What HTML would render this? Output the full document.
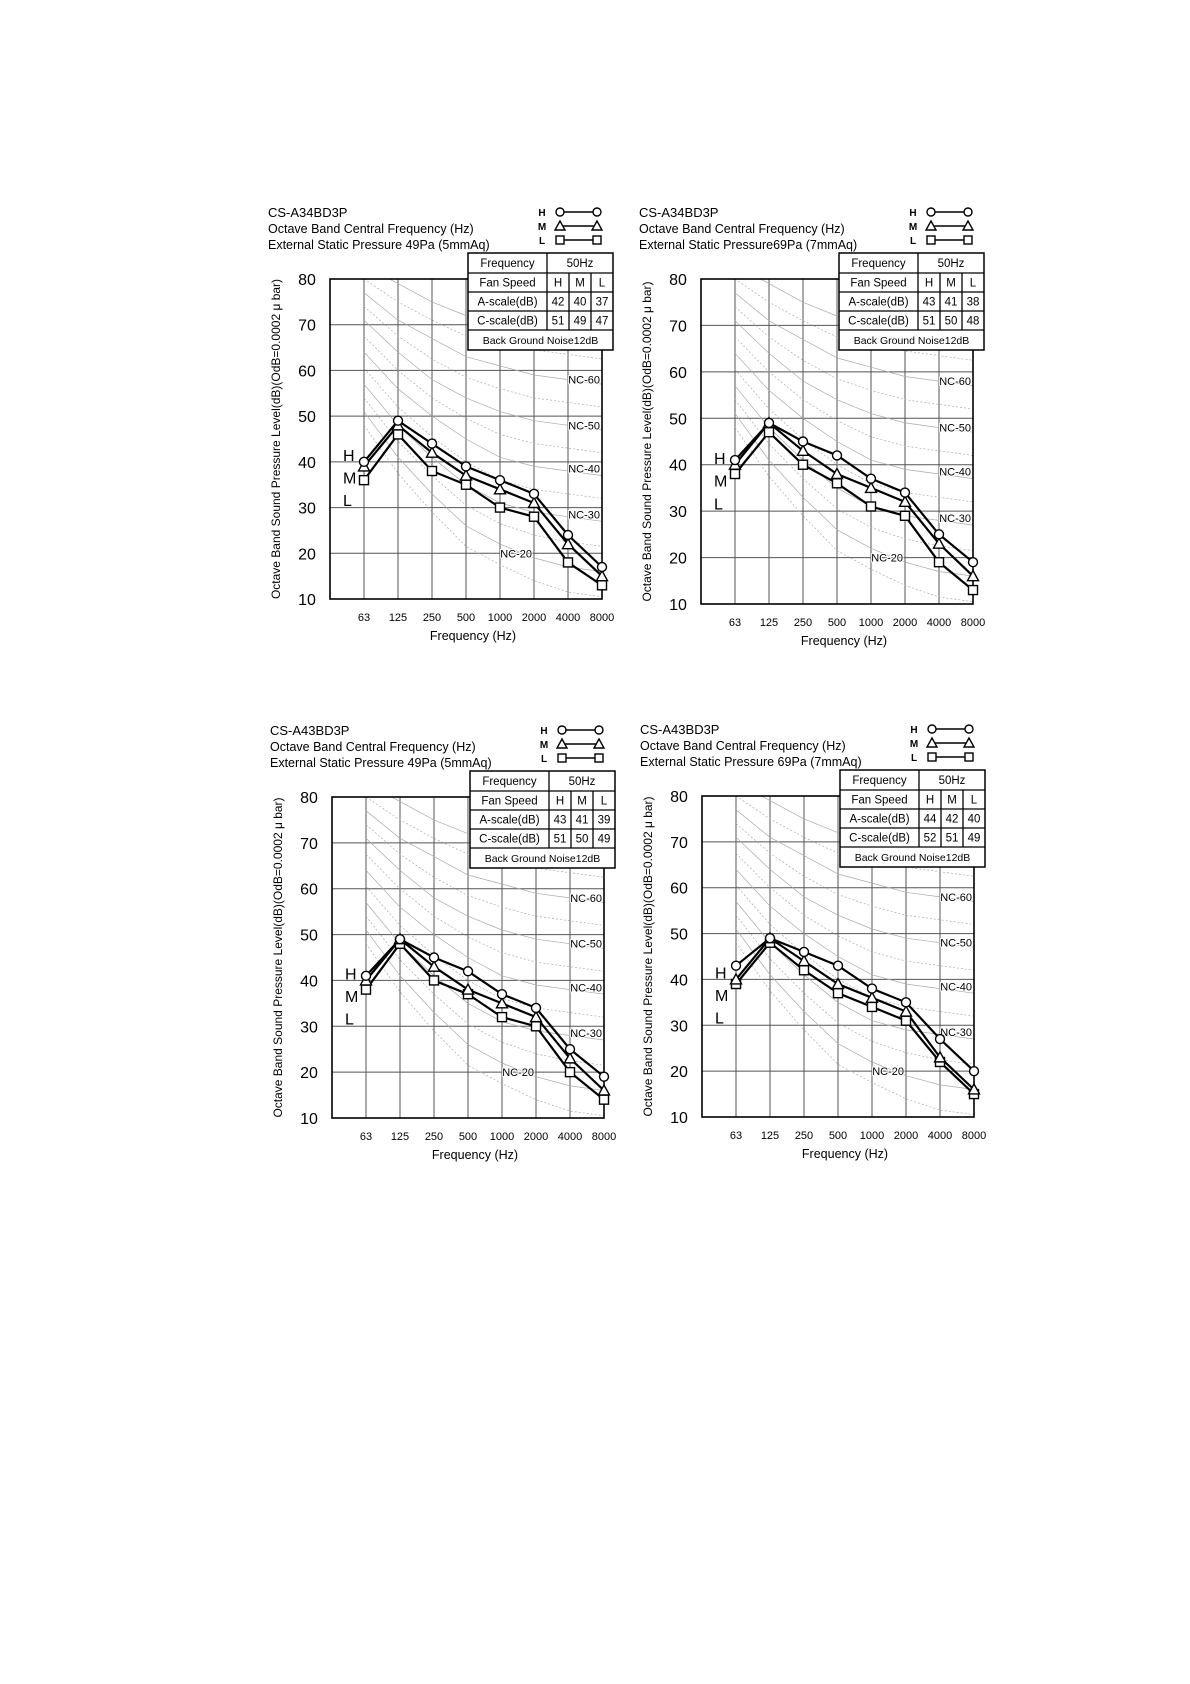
<!DOCTYPE html>
<html><head><meta charset="utf-8">
<style>
html,body{margin:0;padding:0;background:#fff;}
svg{display:block;font-family:"Liberation Sans",Arial,sans-serif;}
</style></head>
<body>
<svg id="s" width="1190" height="1684" xmlns="http://www.w3.org/2000/svg"></svg>
<script>
const S=document.getElementById('s');
const charts=[
 {ox:330,oy:279,h:320,title:"CS-A34BD3P",p:"External Static Pressure 49Pa (5mmAq)",a:[42,40,37],c:[51,49,47],
  H:[40,49,44,39,36,33,24,17],M:[39,48,42,37,34,31,22,15],L:[36,46,38,35,30,28,18,13]},
 {ox:701,oy:279,h:325,title:"CS-A34BD3P",p:"External Static Pressure69Pa (7mmAq)",a:[43,41,38],c:[51,50,48],
  H:[41,49,45,42,37,34,25,19],M:[40,49,43,38,35,32,23,16],L:[38,47,40,36,31,29,19,13]},
 {ox:332,oy:797,h:321,title:"CS-A43BD3P",p:"External Static Pressure 49Pa (5mmAq)",a:[43,41,39],c:[51,50,49],
  H:[41,49,45,42,37,34,25,19],M:[40,49,43,38,35,32,23,16],L:[38,48,40,37,32,30,20,14]},
 {ox:702,oy:796,h:321,title:"CS-A43BD3P",p:"External Static Pressure 69Pa (7mmAq)",a:[44,42,40],c:[52,51,49],
  H:[43,49,46,43,38,35,27,20],M:[40,49,44,39,36,33,23,16],L:[39,48,42,37,34,31,22,15]}
];
const NC={20:[51,41,33,26,22,19,17,16],30:[57,48,41,35,31,29,28,27],40:[64,56,50,45,41,39,38,37],
50:[71,64,58,54,51,49,48,47],60:[77,71,67,63,61,59,58,57],70:[83,79,75,72,71,70,69,68]};
let out="";
charts.forEach((c,ci)=>{
 const ox=c.ox,oy=c.oy,W=272,h=c.h;
 const X=i=>ox+34+i*34, Y=v=>oy+(80-v)*h/70;
 out+=`<defs><clipPath id="cp${ci}"><rect x="${ox}" y="${oy}" width="${W}" height="${h}"/></clipPath></defs>`;
 for(let v=10;v<=80;v+=10) out+=`<line x1="${ox}" x2="${ox+W}" y1="${Y(v)}" y2="${Y(v)}" stroke="#555" stroke-width="1"/>`;
 for(let i=0;i<8;i++) out+=`<line x1="${X(i)}" x2="${X(i)}" y1="${oy}" y2="${oy+h}" stroke="#555" stroke-width="1"/>`;
 out+=`<g clip-path="url(#cp${ci})">`;
 for(let n=15;n<=70;n+=5){
  let lo=Math.floor(n/10)*10, hi=lo+10; if(lo<20){lo=20;hi=30;}
  if(lo>=70){lo=60;hi=70;}
  const t=(n-lo)/10;
  const vals=NC[lo].map((v,i)=>v+(NC[hi][i]-v)*t);
  const pts=[];
  vals.forEach((v,i)=>pts.push([X(i),v]));
  let d="M"+pts.map(p=>p[0]+","+Y(p[1]).toFixed(1)).join(" L");
  out+=`<path d="${d}" fill="none" stroke="#aaa" stroke-width="0.7" stroke-dasharray="${n%10?'2,2':'none'}"/>`;
 }
 out+=`</g>`;
 out+=`<rect x="${ox}" y="${oy}" width="${W}" height="${h}" fill="none" stroke="#000" stroke-width="1.6"/>`;
 [[60,58],[50,48],[40,38.5],[30,28.5]].forEach(([n,v])=>{
  out+=`<text x="${ox+W-2}" y="${Y(v)+4}" font-size="11" text-anchor="end" fill="#000" style="paint-order:stroke" stroke="#fff" stroke-width="2">NC-${n}</text>`;
 });
 out+=`<text x="${X(5)-2}" y="${Y(20)+4}" font-size="11" text-anchor="end" fill="#000" stroke="#fff" stroke-width="2" style="paint-order:stroke">NC-20</text>`;
 for(let v=10;v<=80;v+=10) out+=`<text x="${ox-23}" y="${Y(v)+6}" font-size="16" text-anchor="middle">${v}</text>`;
 ["63","125","250","500","1000","2000","4000","8000"].forEach((t,i)=>out+=`<text x="${X(i)}" y="${oy+h+22}" font-size="11" text-anchor="middle">${t}</text>`);
 out+=`<text x="${ox+143}" y="${oy+h+41}" font-size="12.5" text-anchor="middle">Frequency  (Hz)</text>`;
 out+=`<text transform="translate(${ox-50},${oy+h/2}) rotate(-90)" font-size="12" text-anchor="middle">Octave Band Sound Pressure Level(dB)(OdB=0.0002 μ bar)</text>`;
 out+=`<text x="${ox-62}" y="${oy-62}" font-size="13">${c.title}</text>`;
 out+=`<text x="${ox-62}" y="${oy-46}" font-size="12.5">Octave Band Central Frequency (Hz)</text>`;
 out+=`<text x="${ox-62}" y="${oy-30}" font-size="12.5">${c.p}</text>`;
 const lg=[["H",oy-67,"c"],["M",oy-53,"t"],["L",oy-39,"s"]];
 const mk=(t,x,y,r)=>t=="c"?`<circle cx="${x}" cy="${y}" r="${r}" fill="#fff" stroke="#000" stroke-width="1.4"/>`:
   t=="t"?`<path d="M${x},${y-r-1} L${x+r+1},${y+r} L${x-r-1},${y+r} Z" fill="#fff" stroke="#000" stroke-width="1.4"/>`:
   `<rect x="${x-r}" y="${y-r}" width="${2*r}" height="${2*r}" fill="#fff" stroke="#000" stroke-width="1.4"/>`;
 lg.forEach(([l,y,t])=>{
  out+=`<text x="${ox+212}" y="${y+4}" font-size="10" text-anchor="middle" font-weight="bold">${l}</text>`;
  out+=`<line x1="${ox+230}" x2="${ox+267}" y1="${y}" y2="${y}" stroke="#000" stroke-width="1.5"/>`;
  out+=mk(t,ox+230,y,4)+mk(t,ox+267,y,4);
 });
 const tx=[ox+138,ox+217,ox+239,ox+261,ox+283], ty=[oy-26,oy-6,oy+13,oy+32,oy+51,oy+71];
 out+=`<rect x="${tx[0]}" y="${ty[0]}" width="${tx[4]-tx[0]}" height="${ty[5]-ty[0]}" fill="#fff" stroke="#000" stroke-width="1.5"/>`;
 for(let r=1;r<5;r++) out+=`<line x1="${tx[0]}" x2="${tx[4]}" y1="${ty[r]}" y2="${ty[r]}" stroke="#000" stroke-width="1.3"/>`;
 out+=`<line x1="${tx[1]}" x2="${tx[1]}" y1="${ty[0]}" y2="${ty[4]}" stroke="#000" stroke-width="1.3"/>`;
 [2,3].forEach(k=>out+=`<line x1="${tx[k]}" x2="${tx[k]}" y1="${ty[1]}" y2="${ty[4]}" stroke="#000" stroke-width="1.3"/>`);
 const cell=(t,x1,x2,r,fs)=>out+=`<text x="${(x1+x2)/2}" y="${(ty[r]+ty[r+1])/2+4}" font-size="${fs||11.5}" text-anchor="middle">${t}</text>`;
 cell("Frequency",tx[0],tx[1],0);cell("50Hz",tx[1],tx[4],0);
 cell("Fan Speed",tx[0],tx[1],1);cell("H",tx[1],tx[2],1);cell("M",tx[2],tx[3],1);cell("L",tx[3],tx[4],1);
 cell("A-scale(dB)",tx[0],tx[1],2);c.a.forEach((v,i)=>cell(v,tx[i+1],tx[i+2],2));
 cell("C-scale(dB)",tx[0],tx[1],3);c.c.forEach((v,i)=>cell(v,tx[i+1],tx[i+2],3));
 cell("Back Ground Noise12dB",tx[0],tx[4],4,10.5);
 out+=`<text x="${ox+13}" y="${oy+h*0.55+6}" font-size="16">H</text>`;
 out+=`<text x="${ox+13}" y="${oy+h*0.62+6}" font-size="16">M</text>`;
 out+=`<text x="${ox+13}" y="${oy+h*0.69+6}" font-size="16">L</text>`;
 [["L","s"],["M","t"],["H","c"]].forEach(([k,t])=>{
  const d="M"+c[k].map((v,i)=>X(i)+","+Y(v).toFixed(1)).join(" L");
  out+=`<path d="${d}" fill="none" stroke="#000" stroke-width="2.2"/>`;
 });
 [["L","s"],["M","t"],["H","c"]].forEach(([k,t])=>c[k].forEach((v,i)=>out+=mk(t,X(i),Y(v),4.5)));
});
S.innerHTML=out;
</script>
</body></html>
